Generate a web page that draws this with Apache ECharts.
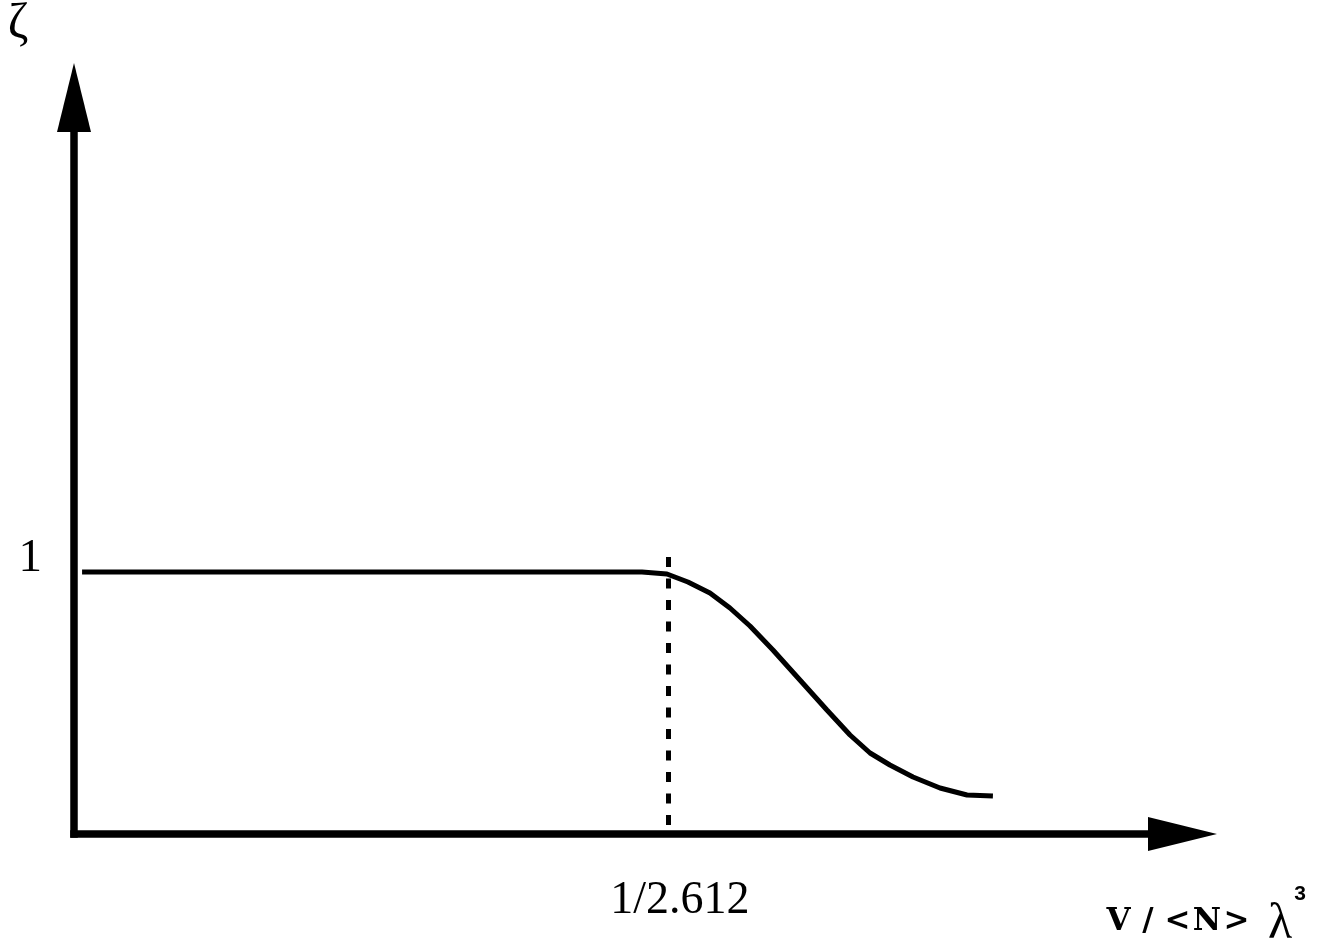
<!DOCTYPE html>
<html>
<head>
<meta charset="utf-8">
<script src="https://cdn.jsdelivr.net/npm/echarts@6/dist/echarts.min.js"></script>
<style>html,body{margin:0;padding:0;background:#fff;}#c{width:1326px;height:950px;}</style>
</head>
<body>
<div id="c"></div>
<script>
// ---- data ----
const xCritical = 1 / 2.612;
const curveX = [0.0052, 0.3661, 0.3822, 0.3957, 0.4099, 0.4228, 0.4357, 0.4505, 0.4679, 0.4853, 0.5002, 0.5131, 0.5259, 0.5408, 0.5582, 0.5756, 0.5923];
const curveY = [1.0, 1.0, 0.9924, 0.9618, 0.9198, 0.8626, 0.7939, 0.7023, 0.5878, 0.4733, 0.3779, 0.3092, 0.2634, 0.2176, 0.1756, 0.1489, 0.1450];
const xTickValues = [xCritical];
const xTickLabels = ['1/2.612'];
const yTickValues = [1];
const yTickLabels = ['1'];
const dashedTop = 1.057;
const dashedBottom = 0;
const yAxisTitle = 'ζ';
const xAxisTitleChars = ['V', '/', '<', 'N', '>'];
const xAxisTitleSym = 'λ';
const xAxisTitleExp = '3';

function labelFor(values, labels) {
  return function (v) {
    let best = 0, bd = Infinity;
    values.forEach((t, i) => { const d = Math.abs(t - v); if (d < bd) { bd = d; best = i; } });
    return labels[best];
  };
}

const titleCharPitch = 29.5;
const titleCharStart = 1118.5;
const titleGraphics = xAxisTitleChars.map((c, i) => ({
  type: 'text', x: titleCharStart + i * titleCharPitch, y: 922,
  style: { text: c, font: 'bold 31px "DejaVu Serif", "Liberation Serif", serif', fill: '#000', align: 'center', verticalAlign: 'middle' }
}));

const chart = echarts.init(document.getElementById('c'), null, { renderer: 'canvas' });
chart.setOption({
  backgroundColor: '#fff',
  animation: false,
  grid: { left: 74, right: 143.5, top: 97.5, bottom: 116, containLabel: false, outerBoundsMode: 'none' },
  xAxis: {
    type: 'value', min: 0, max: 0.7145,
    splitLine: { show: false }, axisTick: { show: false },
    axisLine: { show: true, symbol: ['none', 'triangle'], symbolSize: [34, 69],
      lineStyle: { color: '#000', width: 7.5, cap: 'square' } },
    axisLabel: {
      customValues: xTickValues, formatter: labelFor(xTickValues, xTickLabels),
      color: '#000', fontFamily: 'Liberation Serif', fontSize: 46,
      margin: 67, verticalAlign: 'middle', padding: [0, 0, 0, 24]
    }
  },
  yAxis: {
    type: 'value', min: 0, max: 2.811,
    splitLine: { show: false }, axisTick: { show: false },
    axisLine: { show: true, symbol: ['none', 'triangle'], symbolSize: [34, 69],
      lineStyle: { color: '#000', width: 7.5, cap: 'square' } },
    axisLabel: {
      customValues: yTickValues, formatter: labelFor(yTickValues, yTickLabels),
      color: '#000', fontFamily: 'Liberation Serif', fontSize: 47, lineHeight: 27,
      margin: 32, verticalAlign: 'bottom'
    }
  },
  series: [{
    type: 'line',
    data: curveX.map((x, i) => [x, curveY[i]]),
    showSymbol: false, symbol: 'none', smooth: false, silent: true,
    lineStyle: { color: '#000', width: 5 },
    markLine: {
      silent: true, symbol: ['none', 'none'], label: { show: false },
      lineStyle: { color: '#000', width: 5, type: [10, 11.5] },
      data: [[{ coord: [xCritical, dashedTop] }, { coord: [xCritical, dashedBottom] }]]
    }
  }],
  graphic: [
    { type: 'text', x: 18, y: 25, style: { text: yAxisTitle, font: '50px "Liberation Serif"', fill: '#000', align: 'center', verticalAlign: 'middle' } },
    ...titleGraphics,
    { type: 'text', x: 1280, y: 925, style: { text: xAxisTitleSym, font: '50px "Liberation Serif"', fill: '#000', align: 'center', verticalAlign: 'middle' } },
    { type: 'text', x: 1300, y: 894.5, style: { text: xAxisTitleExp, font: 'bold 21px "Liberation Sans"', fill: '#000', align: 'center', verticalAlign: 'middle' } }
  ]
});
</script>
</body>
</html>
